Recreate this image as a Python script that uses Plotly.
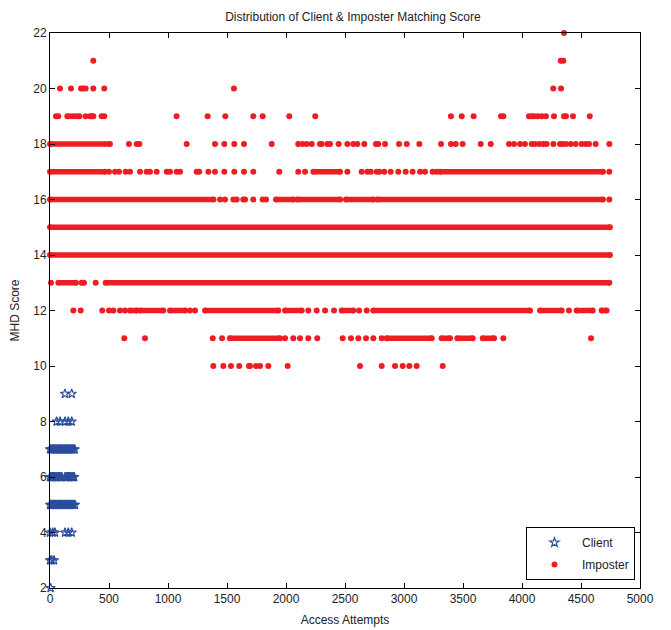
import plotly.graph_objects as go

RED = "#ee1d23"
BLUE = "#2a4d9e"

# ---------------- data ----------------
# Client attempts: score -> x positions of stars
client_rows = {
    9: [127, 184],
    8: [56, 85, 127, 155, 184],
    7: [0, 10, 20, 30, 40, 50, 60, 70, 80, 90, 100, 110, 120, 130, 140, 150,
        160, 170, 180, 190, 200, 210],
    6: [0, 10, 20, 30, 40, 50, 60, 70, 80, 90, 100, 127, 137, 147, 157, 167,
        177, 187, 197, 205],
    5: [0, 10, 20, 30, 40, 50, 60, 70, 80, 90, 100, 110, 120, 130, 140, 150,
        160, 170, 180, 190, 200, 212],
    4: [0, 23, 42, 127, 155, 184],
    3: [0, 14, 34],
    2: [5],
}

# Imposter attempts: isolated points per score
imp_points = {
    22: [4356],
    21: [367, 4328, 4350],
    20: [85, 178, 263, 282, 302, 367, 460, 1559, 4265, 4331],
    19: [51, 70, 147, 169, 198, 226, 249, 302, 339, 353, 367, 438, 460, 1073,
         1336, 1486, 1723, 1802, 2028, 2248, 3398, 3489, 3590, 3822, 3842, 4059,
         4082, 4102, 4133, 4167, 4203, 4271, 4356, 4373, 4432, 4574],
    18: [669, 735, 757, 1158, 1398, 1477, 1562, 1644, 1879, 2104, 2141, 2175,
         2218, 2288, 2302, 2350, 2373, 2446, 2520, 2570, 2604, 2664, 2763, 2782,
         2839, 2958, 3023, 3130, 3314, 3398, 3438, 3497, 3650, 3735, 3890, 3932,
         3983, 4025, 4082, 4110, 4147, 4181, 4209, 4266, 4322, 4345, 4373, 4413,
         4455, 4506, 4540, 4568, 4624, 4740],
    17: [500, 551, 585, 641, 678, 763, 819, 847, 904, 989, 1017, 1073, 1102,
         1243, 1265, 1342, 1398, 1477, 1562, 1644, 1723, 1943, 2104, 2161, 2520,
         2641, 2689, 2718, 2768, 2791, 2833, 2887, 2952, 3014, 3073, 3136, 3178,
         3243, 3277, 4740],
    16: [1441, 1483, 1554, 1582, 1638, 1653, 1723, 1802, 1831, 4740],
    15: [],
    14: [],
    13: [8, 268, 288, 387],
    12: [198, 260, 443, 500, 537, 593, 636, 1186, 1229, 2189, 2260, 2331, 2407,
         2619, 2684, 4398],
    11: [630, 805, 1379, 1458, 1992, 2062, 2119, 2189, 2265, 2480, 2551, 2613,
         2678, 2740, 2811, 3842, 4585],
    10: [1384, 1469, 1534, 1604, 1686, 1695, 1746, 1780, 1850, 2014, 2627, 2811,
         2924, 2989, 3045, 3107, 3328],
}

# Imposter attempts: solid runs of back-to-back points (score -> [start, end])
imp_runs = {
    18: [[0, 508]],
    17: [[0, 466], [2232, 2458], [3305, 4686]],
    16: [[0, 1385], [1915, 2062], [2096, 2458], [2508, 2740], [2774, 4686]],
    15: [[0, 4745]],
    14: [[0, 4745]],
    13: [[71, 220], [472, 4740]],
    12: [[678, 735], [763, 960], [1017, 1144], [1314, 1935], [1992, 2133],
         [2472, 2570], [2740, 4068], [4153, 4336], [4463, 4599], [4675, 4717]],
    11: [[1525, 1949], [2853, 3235], [3319, 3390], [3452, 3582], [3667, 3763]],
}

x_ticks = [0, 500, 1000, 1500, 2000, 2500, 3000, 3500, 4000, 4500, 5000]
y_ticks = [2, 4, 6, 8, 10, 12, 14, 16, 18, 20, 22]

FONT = "Liberation Sans, Arial"

# ---------------- figure ----------------
cx, cy = [], []
for score, xs in client_rows.items():
    cx += xs
    cy += [score] * len(xs)

px_, py_ = [], []
for score, xs in imp_points.items():
    px_ += xs
    py_ += [score] * len(xs)

rx, ry = [], []
for score, runs in imp_runs.items():
    for a, b in runs:
        rx += [a, b, None]
        ry += [score, score, None]

fig = go.Figure()
fig.add_trace(go.Scatter(
    x=rx, y=ry, mode="lines+markers", showlegend=False, hoverinfo="skip",
    line=dict(color=RED, width=5.5),
    marker=dict(symbol="circle", size=6, color=RED),
    cliponaxis=False,
))
fig.add_trace(go.Scatter(
    x=cx, y=cy, mode="markers", name="Client", legendgroup="c",
    marker=dict(symbol="star-open", size=7, color=BLUE, line=dict(width=1.2, color=BLUE)),
    cliponaxis=False,
))
fig.add_trace(go.Scatter(
    x=px_, y=py_, mode="markers", name="Imposter", legendgroup="i",
    marker=dict(symbol="circle", size=6, color=RED),
    cliponaxis=False,
))

axis_common = dict(
    showgrid=False, zeroline=False, showline=True, linecolor="black", linewidth=1,
    mirror="ticks", ticks="inside", ticklen=5, tickcolor="black", automargin=False,
    tickfont=dict(family=FONT, size=12, color="#222"),
)
fig.update_xaxes(range=[0, 5000], tickvals=x_ticks, **axis_common,
                 title=dict(text="Access Attempts", standoff=10,
                            font=dict(family=FONT, size=12, color="#222")))
fig.update_yaxes(range=[2, 22], tickvals=y_ticks, **axis_common,
                 title=dict(text="MHD Score", standoff=11,
                            font=dict(family=FONT, size=12, color="#222")))

# the page body adds an 8px offset; margins compensate for it
fig.update_layout(
    width=671, height=630,
    margin=dict(l=42, r=39, t=25, b=50),
    paper_bgcolor="white", plot_bgcolor="white",
    title=dict(text="Distribution of Client & Imposter Matching Score",
               x=0.514, xanchor="center", y=0.986, yanchor="middle",
               font=dict(family=FONT, size=12, color="#222")),
    legend=dict(x=0.9915, xanchor="right", y=0.0144, yanchor="bottom",
                bordercolor="black", borderwidth=1, bgcolor="white",
                font=dict(family=FONT, size=12, color="#222"),
                itemwidth=45, tracegroupgap=3),
    showlegend=True,
)

fig.write_html("out.html")
